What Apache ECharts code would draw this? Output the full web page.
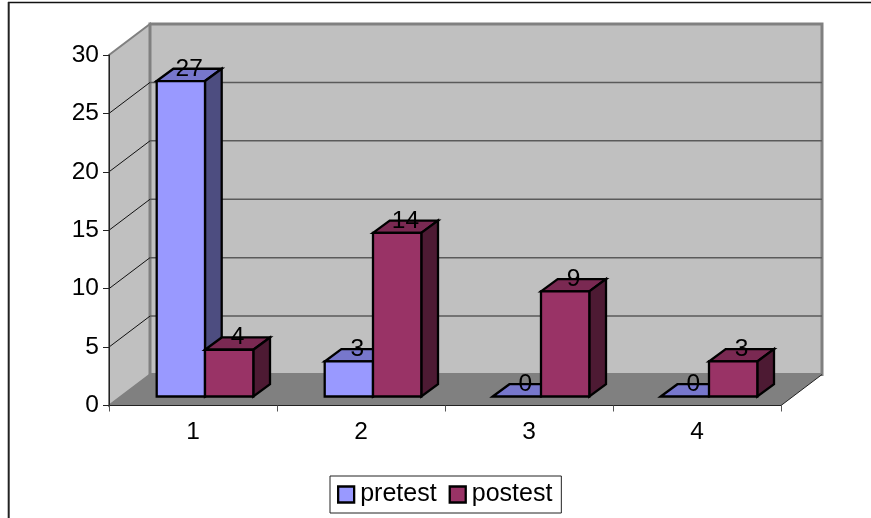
<!DOCTYPE html>
<html>
<head>
<meta charset="utf-8">
<style>html,body{margin:0;padding:0;background:#fff}#c{width:871px;height:518px}</style>
<script src="https://cdn.jsdelivr.net/npm/echarts@6/dist/echarts.min.js"></script>
</head>
<body>
<div id="c"></div>
<script>
var categories = ['1', '2', '3', '4'];
var pretest = [27, 3, 0, 0];
var postest = [4, 14, 9, 3];
var gridValues = [5, 10, 15, 20, 25];
var yMax = 30;

var wallDepth = [41, -31];
var barShift = [12, -9];
var barDepth = [16.7, -12.3];
var barShare = 0.2875;

var chart = echarts.init(document.getElementById('c'), null, {renderer: 'canvas'});

function renderWalls(params, api) {
  var dx = wallDepth[0], dy = wallDepth[1];
  var cs = params.coordSys;
  var left = cs.x, right = cs.x + cs.width, bottom = cs.y + cs.height, top = cs.y;
  var children = [
    {type: 'polygon', shape: {points: [[left, top], [left + dx, top + dy], [left + dx, bottom + dy], [left, bottom]]},
     style: {fill: '#C0C0C0', stroke: '#808080', lineWidth: 2}},
    {type: 'rect', shape: {x: left + dx, y: top + dy, width: cs.width, height: cs.height},
     style: {fill: '#C0C0C0', stroke: '#808080', lineWidth: 3}},
    {type: 'polygon', shape: {points: [[left + dx, bottom + dy], [right + dx, bottom + dy], [right, bottom], [left, bottom]]},
     style: {fill: '#808080'}},
    {type: 'line', shape: {x1: right, y1: bottom, x2: right + dx, y2: bottom + dy},
     style: {stroke: '#222', lineWidth: 1}}
  ];
  gridValues.forEach(function (v) {
    var y = api.coord([0, v])[1];
    children.push({type: 'line', shape: {x1: left, y1: y, x2: left + dx, y2: y + dy}, style: {stroke: '#111', lineWidth: 1}});
    children.push({type: 'line', shape: {x1: left + dx, y1: y + dy, x2: right + dx, y2: y + dy}, style: {stroke: '#5a5a5a', lineWidth: 1.5}});
  });
  return {type: 'group', children: children};
}

function makeBar(offsetIndex, front, topFace, sideFace) {
  return function (params, api) {
    var cat = api.value(0), val = api.value(1);
    var band = api.size([1, 0])[0];
    var w = band * barShare;
    var c = api.coord([cat, 0]);
    var y0 = c[1] + barShift[1];
    var y1 = api.coord([cat, val])[1] + barShift[1];
    var x0 = c[0] + barShift[0] + (offsetIndex - 1) * w;
    var x1 = x0 + w;
    var dx = barDepth[0], dy = barDepth[1];
    var st = function (fill) { return {fill: fill, stroke: '#000', lineWidth: 2.3, lineJoin: 'miter'}; };
    var kids = [];
    kids.push({type: 'polygon', shape: {points: [[x0, y1], [x0 + dx, y1 + dy], [x1 + dx, y1 + dy], [x1, y1]]}, style: st(topFace)});
    if (val > 0) {
      kids.push({type: 'polygon', shape: {points: [[x1, y1], [x1 + dx, y1 + dy], [x1 + dx, y0 + dy], [x1, y0]]}, style: st(sideFace)});
      kids.push({type: 'rect', shape: {x: x0, y: y1, width: w, height: y0 - y1}, style: st(front)});
    }
    kids.push({type: 'text', z2: 50, style: {
      text: String(val), x: (x0 + x1) / 2 + dx / 2, y: y1 + dy / 2 - 6,
      align: 'center', verticalAlign: 'middle', fill: '#000',
      font: '24.5px "Liberation Sans", Arial, sans-serif'}});
    return {type: 'group', children: kids};
  };
}

function pairs(values) {
  return values.map(function (v, i) { return [i, v]; });
}

chart.setOption({
  animation: false,
  backgroundColor: '#fff',
  textStyle: {fontFamily: '"Liberation Sans", Arial, sans-serif'},
  grid: {left: 109, right: 90, top: 55, bottom: 112.5, containLabel: false},
  legend: {
    data: [
      {name: 'pretest', icon: 'rect', itemStyle: {color: '#9999FF', borderColor: '#000', borderWidth: 2.3}},
      {name: 'postest', icon: 'rect', itemStyle: {color: '#993366', borderColor: '#000', borderWidth: 2.3}}
    ],
    left: 330, top: 476,
    padding: [6, 9, 6, 7],
    itemGap: 12, itemWidth: 16, itemHeight: 16,
    borderColor: '#222', borderWidth: 1,
    textStyle: {fontSize: 25, color: '#000', fontFamily: '"Liberation Sans", Arial, sans-serif', padding: [1, 0, 0, 1]}
  },
  xAxis: {
    type: 'category', data: categories, z: 8,
    axisLine: {show: true, lineStyle: {color: '#222', width: 1}},
    axisTick: {show: true, alignWithLabel: false, length: 6, lineStyle: {color: '#555'}},
    axisLabel: {fontSize: 24.5, color: '#000', margin: 14},
    splitLine: {show: false}
  },
  yAxis: {
    type: 'value', min: 0, max: yMax, interval: 5, z: 8,
    axisLine: {show: true, lineStyle: {color: '#222', width: 1}},
    axisTick: {show: true, length: 6, lineStyle: {color: '#222'}},
    axisLabel: {fontSize: 24.5, color: '#000', margin: 10, padding: [2, 0, 0, 0]},
    splitLine: {show: false}
  },
  graphic: [
    {type: 'line', z: 0, shape: {x1: 8, y1: 2.5, x2: 871, y2: 2.5}, style: {stroke: '#111', lineWidth: 1.5}},
    {type: 'line', z: 0, shape: {x1: 8.7, y1: 2, x2: 8.7, y2: 518}, style: {stroke: '#222', lineWidth: 2}}
  ],
  series: [
    {type: 'custom', name: 'walls', z: 1, silent: true, data: [[0, 0]], encode: {x: 0, y: 1}, renderItem: renderWalls},
    {type: 'custom', name: 'pretest', z: 5, data: pairs(pretest), encode: {x: 0, y: 1},
     itemStyle: {color: '#9999FF'},
     renderItem: makeBar(0, '#9999FF', '#7777CC', '#4D4D80')},
    {type: 'custom', name: 'postest', z: 6, data: pairs(postest), encode: {x: 0, y: 1},
     itemStyle: {color: '#993366'},
     renderItem: makeBar(1, '#993366', '#7A2952', '#4D1A33')}
  ]
});
</script>
</body>
</html>
